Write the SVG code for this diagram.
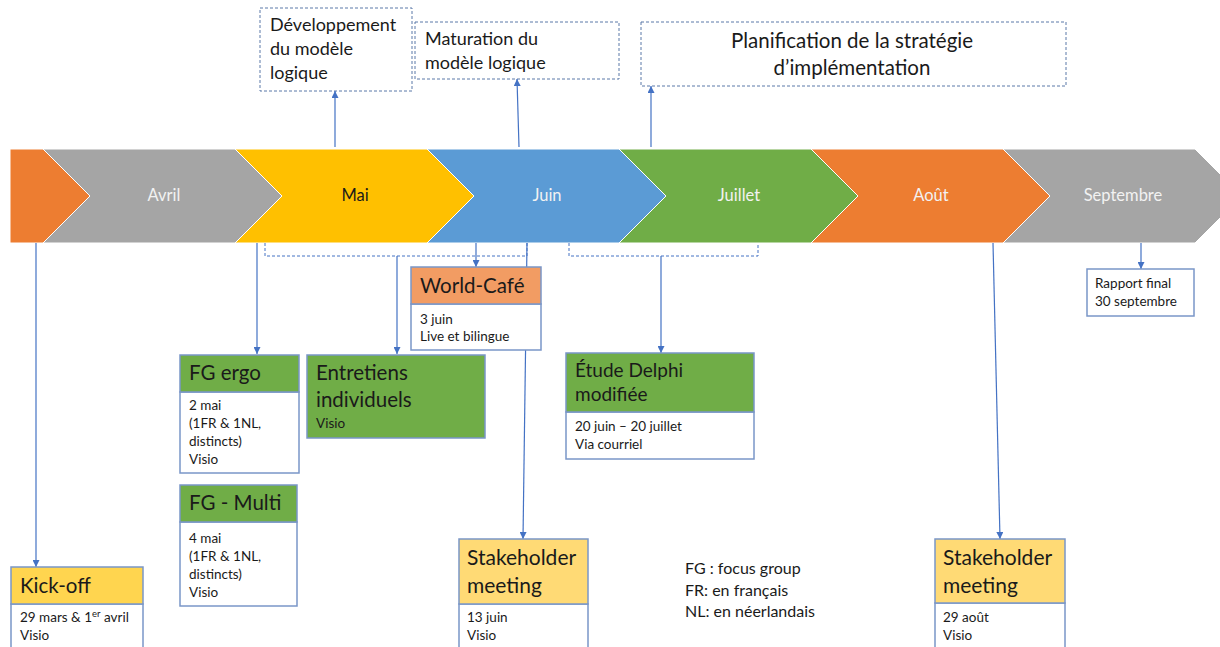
<svg xmlns="http://www.w3.org/2000/svg" width="1220" height="647" viewBox="0 0 1220 647">
<style>
.t{font-family:Lato,"Liberation Sans",sans-serif;fill:#1a1a1a}
.mon{font-family:Lato,"Liberation Sans",sans-serif;font-size:16.5px;text-anchor:middle;fill:#f2f2f2}
.top{font-family:Lato,"Liberation Sans",sans-serif;font-size:18px;fill:#1a1a1a}
.h{font-size:20.5px}
.b{font-size:13.5px}
.dbox{fill:#fff;stroke:#5a78a8;stroke-width:1;stroke-dasharray:3 2}
.brk{fill:none;stroke:#4472c4;stroke-width:1;stroke-dasharray:3 2}
.box{fill:#fff;stroke:#7a96c8;stroke-width:1.5}
.hg{fill:#70ad47;stroke:#7a96c8;stroke-width:1.5}
.ln{fill:none;stroke:#4472c4;stroke-width:1.2}
.chev{stroke:#fff;stroke-width:1}
</style>
<defs>
<marker id="ah" viewBox="0 0 10 10" refX="10" refY="5" markerWidth="7" markerHeight="7" orient="auto" markerUnits="userSpaceOnUse">
<path d="M0,0 L10,5 L0,10 z" fill="#4472c4"/>
</marker>
</defs>

<g id="timeline">
<polygon class="chev" fill="#ed7d31" points="10,149 43,149 90,196 43,243 10,243"/>
<polygon class="chev" fill="#a5a5a5" points="43,149 235,149 282,196 235,243 43,243 90,196"/>
<polygon class="chev" fill="#ffc000" points="235,149 427,149 474,196 427,243 235,243 282,196"/>
<polygon class="chev" fill="#5b9bd5" points="427,149 619,149 666,196 619,243 427,243 474,196"/>
<polygon class="chev" fill="#70ad47" points="619,149 811,149 858,196 811,243 619,243 666,196"/>
<polygon class="chev" fill="#ed7d31" points="811,149 1003,149 1050,196 1003,243 811,243 858,196"/>
<polygon class="chev" fill="#a5a5a5" points="1003,149 1195,149 1242,196 1195,243 1003,243 1050,196"/>
<text class="mon" x="164" y="201">Avril</text>
<text class="mon" x="355" y="201" style="fill:#1a1a1a">Mai</text>
<text class="mon" x="547" y="201">Juin</text>
<text class="mon" x="739" y="201">Juillet</text>
<text class="mon" x="931" y="201">Août</text>
<text class="mon" x="1123" y="201">Septembre</text>
</g>

<g id="dev-modele">
<rect class="dbox" x="260" y="8" width="152" height="83"/>
<text class="top" x="270" y="31">Développement</text>
<text class="top" x="270" y="55">du modèle</text>
<text class="top" x="270" y="79">logique</text>
</g>
<g id="maturation">
<rect class="dbox" x="415" y="22" width="204" height="57"/>
<text class="top" x="425" y="45">Maturation du</text>
<text class="top" x="425" y="69">modèle logique</text>
</g>
<g id="planification">
<rect class="dbox" x="641" y="22" width="425" height="64"/>
<text class="top" x="852" y="48" text-anchor="middle" style="font-size:20.5px">Planification de la stratégie</text>
<text class="top" x="852" y="75" text-anchor="middle" style="font-size:20.5px">d’implémentation</text>
</g>

<g id="brackets">
<polyline class="brk" points="265,243 265,256 527,256 527,243"/>
<polyline class="brk" points="569,243 569,256 758,256 758,243"/>
</g>

<g id="connectors">
<line class="ln" x1="335" y1="147" x2="335" y2="91" marker-end="url(#ah)"/>
<line class="ln" x1="519" y1="147" x2="517" y2="79" marker-end="url(#ah)"/>
<line class="ln" x1="651" y1="147" x2="651" y2="86" marker-end="url(#ah)"/>
<line class="ln" x1="36" y1="243" x2="36" y2="567" marker-end="url(#ah)"/>
<line class="ln" x1="257" y1="243" x2="257" y2="354" marker-end="url(#ah)"/>
<line class="ln" x1="397" y1="256" x2="397" y2="354" marker-end="url(#ah)"/>
<line class="ln" x1="476" y1="243" x2="476" y2="267" marker-end="url(#ah)"/>
<line class="ln" x1="527" y1="243" x2="523" y2="539" marker-end="url(#ah)"/>
<line class="ln" x1="661" y1="256" x2="661" y2="353" marker-end="url(#ah)"/>
<line class="ln" x1="993" y1="243" x2="1000" y2="539" marker-end="url(#ah)"/>
<line class="ln" x1="1141" y1="243" x2="1141" y2="269" marker-end="url(#ah)"/>
</g>

<g id="kickoff">
<rect class="box" x="11" y="604" width="132" height="50"/>
<rect x="11" y="567" width="132" height="37" fill="#ffd54f" stroke="#7a96c8" stroke-width="1.5"/>
<text class="t h" x="20" y="593">Kick-off</text>
<text class="t b" x="20" y="622">29 mars &amp; 1<tspan dy="-5" style="font-size:9.5px">er</tspan><tspan dy="5"> avril</tspan></text>
<text class="t b" x="20" y="640">Visio</text>
</g>

<g id="fg-ergo">
<rect class="box" x="180" y="392" width="119" height="81"/>
<rect class="hg" x="180" y="355" width="119" height="37"/>
<text class="t h" x="189" y="380">FG ergo</text>
<text class="t b" x="189" y="410">2 mai</text>
<text class="t b" x="189" y="428">(1FR &amp; 1NL,</text>
<text class="t b" x="189" y="446">distincts)</text>
<text class="t b" x="189" y="464">Visio</text>
</g>

<g id="fg-multi">
<rect class="box" x="180" y="522" width="117" height="84"/>
<rect class="hg" x="180" y="485" width="117" height="37"/>
<text class="t h" x="189" y="510">FG - Multi</text>
<text class="t b" x="189" y="543">4 mai</text>
<text class="t b" x="189" y="561">(1FR &amp; 1NL,</text>
<text class="t b" x="189" y="579">distincts)</text>
<text class="t b" x="189" y="597">Visio</text>
</g>

<g id="entretiens">
<rect class="hg" x="307" y="355" width="178" height="83"/>
<text class="t h" x="316" y="380">Entretiens</text>
<text class="t h" x="316" y="407">individuels</text>
<text class="t b" x="316" y="428">Visio</text>
</g>

<g id="world-cafe">
<rect class="box" x="411" y="304" width="130" height="46"/>
<rect x="411" y="267" width="130" height="37" fill="#f29c63" stroke="#7a96c8" stroke-width="1.5"/>
<text class="t h" x="420" y="293">World-Café</text>
<text class="t b" x="420" y="324">3 juin</text>
<text class="t b" x="420" y="341">Live et bilingue</text>
</g>

<g id="stakeholder-juin">
<rect class="box" x="459" y="604" width="129" height="50"/>
<rect x="459" y="539" width="129" height="65" fill="#ffda75" stroke="#7a96c8" stroke-width="1.5"/>
<text class="t h" x="467" y="565" style="font-size:21px">Stakeholder</text>
<text class="t h" x="467" y="593" style="font-size:21px">meeting</text>
<text class="t b" x="467" y="622">13 juin</text>
<text class="t b" x="467" y="640">Visio</text>
</g>

<g id="delphi">
<rect class="box" x="566" y="412" width="188" height="47"/>
<rect class="hg" x="566" y="353" width="188" height="59"/>
<text class="t" x="575" y="377" style="font-size:19px">Étude Delphi</text>
<text class="t" x="575" y="401" style="font-size:19px">modifiée</text>
<text class="t b" x="575" y="431">20 juin – 20 juillet</text>
<text class="t b" x="575" y="449">Via courriel</text>
</g>

<g id="legend">
<text class="t" x="685" y="574" style="font-size:16px">FG : focus group</text>
<text class="t" x="685" y="596" style="font-size:16px">FR: en français</text>
<text class="t" x="685" y="617" style="font-size:16px">NL: en néerlandais</text>
</g>

<g id="stakeholder-aout">
<rect class="box" x="935" y="603" width="130" height="50"/>
<rect x="935" y="539" width="130" height="64" fill="#ffda75" stroke="#7a96c8" stroke-width="1.5"/>
<text class="t h" x="943" y="565" style="font-size:21px">Stakeholder</text>
<text class="t h" x="943" y="593" style="font-size:21px">meeting</text>
<text class="t b" x="943" y="622">29 août</text>
<text class="t b" x="943" y="640">Visio</text>
</g>

<g id="rapport">
<rect class="box" x="1087" y="269" width="107" height="47"/>
<text class="t b" x="1095" y="288">Rapport final</text>
<text class="t b" x="1095" y="306">30 septembre</text>
</g>
</svg>
